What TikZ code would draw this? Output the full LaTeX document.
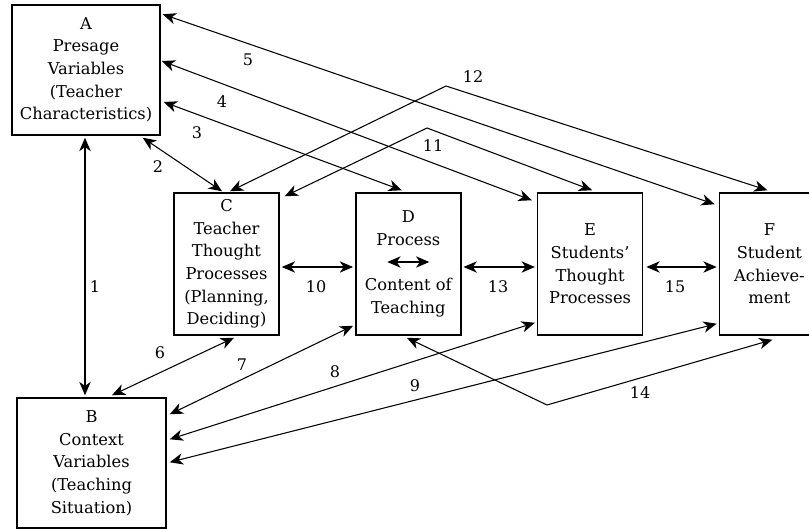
\documentclass[tikz,border=0pt]{standalone}
\usepackage{fontspec}
\setmainfont{DejaVu Serif}
\usetikzlibrary{arrows.meta,positioning,calc}

\begin{document}
\begin{tikzpicture}[x=0.75pt,y=-0.75pt,
      node distance=56.5pt,
      >={Stealth[length=10pt,width=8.5pt,inset=3pt]},
      box/.style={draw,line width=1.1pt,align=center,inner sep=0pt,
                  font=\fontsize{12.2}{17}\selectfont},
      bigbox/.style={box,minimum width=111pt,minimum height=97.5pt},
      midbox/.style={box,minimum width=78.75pt,minimum height=106.5pt},
      lnk/.style={<->,line width=0.8pt},
      num/.style={font=\fontsize{12}{14}\selectfont}]
    \useasboundingbox (0,0) rectangle (809,528);
    % the six boxes
    \node[bigbox] (A) at (86,70) {A\\Presage\\Variables\\(Teacher\\Characteristics)};
    \node[bigbox,minimum width=111.75pt] (B) at (91.5,463) {B\\Context\\Variables\\(Teaching\\Situation)};
    \node[midbox] (C) at (226.5,264) {C\\Teacher\\Thought\\Processes\\(Planning,\\Deciding)};
    \node[midbox,right=of C] (D) {D\\Process\\\mbox{}\\Content of\\Teaching};
    \node[midbox,right=of D] (E) {E\\Students'\\Thought\\Processes};
    \node[midbox,right=of E,minimum width=75pt] (F) {F\\Student\\Achieve-\\ment};
    \draw[lnk] ($(D.center)+(-21,-2)$) -- ($(D.center)+(21,-2)$);
    % bends of the long links
    \coordinate (k11) at (427,128);
    \coordinate (k12) at (446,86);
    \coordinate (k14) at (547,405);
    % links
    \draw[lnk,line width=1.3pt] ($(A.south)+(-1,2)$) -- ($(B.north)+(-6.5,-2)$);
    \draw[lnk] ($(A.south east)+(-18,2)$) -- ($(C.north)+(-4.5,-1)$);
    \draw[lnk] ($(A.east)+(3,32)$) -- ($(D.north)+(-6.5,-2)$);
    \draw[lnk] ($(A.east)+(1,-9)$) -- ($(E.north west)+(-5,8)$);
    \draw[lnk] ($(A.north east)+(2,10)$) -- ($(F.north west)+(-4,12)$);
    \draw[lnk] ($(B.north)+(20.5,-2)$) -- ($(C.south)+(7.5,2)$);
    \draw[lnk] ($(B.north east)+(3,17)$) -- ($(D.south west)+(-2,-10)$);
    \draw[lnk] ($(B.north east)+(3,42)$) -- ($(E.south west)+(-2,-13)$);
    \draw[lnk] ($(B.north east)+(3,65)$) -- ($(F.south west)+(-2,-12)$);
    \draw[lnk] ($(C.east)+(2,3)$) -- ($(D.west)+(-2,3)$);
    \draw[lnk] ($(C.north east)+(5,4)$) -- (k11) -- ($(E.north)+(2,-2)$);
    \draw[lnk] ($(C.north)+(3.5,-1)$) -- (k12) -- ($(F.north)+(-2,-2)$);
    \draw[lnk] ($(D.east)+(2,3)$) -- ($(E.west)+(-2,3)$);
    \draw[lnk] ($(D.south)+(-1.5,2)$) -- (k14) -- ($(F.south)+(3,4)$);
    \draw[lnk] ($(E.east)+(3,3)$) -- ($(F.west)+(-2,3)$);
    % link numbers
    \foreach \n/\x/\y in {1/95/287,2/158/167,3/197/133,4/222/102,5/248/60,
                         6/160/353,7/242/365,8/335/372,9/415/386,10/316/287,
                         11/433/146,12/473/77,13/498/287,14/640/393,15/675/287}
      \node[num] (n\n) at (\x,\y) {\n};
  \end{tikzpicture}
\end{document}
